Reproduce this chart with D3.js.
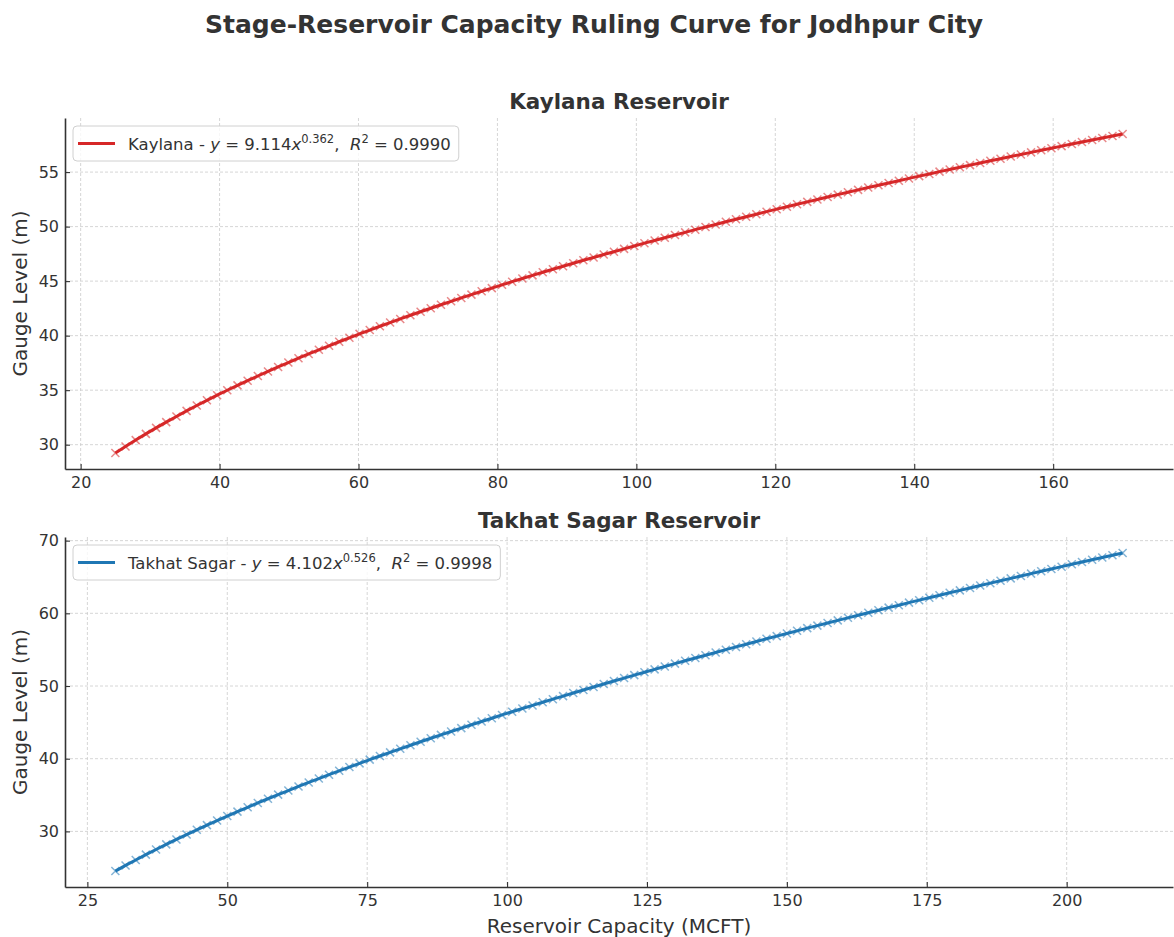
<!DOCTYPE html>
<html><head><meta charset="utf-8">
<script src="https://cdn.jsdelivr.net/npm/d3@7/dist/d3.min.js"></script>
<style>body{margin:0;background:#fff}text{font-family:"DejaVu Sans",sans-serif}</style>
</head><body>
<svg id="c" width="1174" height="937"></svg>
<script>
const kaylanaCapacity=[25.00,26.46,27.93,29.39,30.86,32.32,33.79,35.25,36.72,38.18,39.65,41.11,42.58,44.04,45.51,46.97,48.43,49.90,51.36,52.83,54.29,55.76,57.22,58.69,60.15,61.62,63.08,64.55,66.01,67.47,68.94,70.40,71.87,73.33,74.80,76.26,77.73,79.19,80.66,82.12,83.59,85.05,86.52,87.98,89.44,90.91,92.37,93.84,95.30,96.77,98.23,99.70,101.16,102.63,104.09,105.56,107.02,108.48,109.95,111.41,112.88,114.34,115.81,117.27,118.74,120.20,121.67,123.13,124.60,126.06,127.53,128.99,130.45,131.92,133.38,134.85,136.31,137.78,139.24,140.71,142.17,143.64,145.10,146.57,148.03,149.49,150.96,152.42,153.89,155.35,156.82,158.28,159.75,161.21,162.68,164.14,165.61,167.07,168.54,170.00];
const kaylanaLevel=[29.23,29.83,30.42,30.99,31.54,32.07,32.59,33.10,33.59,34.07,34.54,34.99,35.44,35.87,36.30,36.72,37.13,37.53,37.93,38.32,38.70,39.07,39.44,39.80,40.16,40.51,40.86,41.20,41.53,41.87,42.19,42.51,42.83,43.15,43.46,43.76,44.07,44.36,44.66,44.95,45.24,45.53,45.81,46.09,46.36,46.64,46.91,47.17,47.44,47.70,47.96,48.22,48.48,48.73,48.98,49.23,49.47,49.72,49.96,50.20,50.44,50.67,50.91,51.14,51.37,51.60,51.82,52.05,52.27,52.49,52.72,52.93,53.15,53.37,53.58,53.79,54.00,54.21,54.42,54.63,54.83,55.04,55.24,55.44,55.64,55.84,56.04,56.23,56.43,56.62,56.81,57.00,57.19,57.38,57.57,57.76,57.94,58.13,58.31,58.50];
const takhatCapacity=[30.00,31.82,33.64,35.45,37.27,39.09,40.91,42.73,44.55,46.36,48.18,50.00,51.82,53.64,55.45,57.27,59.09,60.91,62.73,64.55,66.36,68.18,70.00,71.82,73.64,75.45,77.27,79.09,80.91,82.73,84.55,86.36,88.18,90.00,91.82,93.64,95.45,97.27,99.09,100.91,102.73,104.55,106.36,108.18,110.00,111.82,113.64,115.45,117.27,119.09,120.91,122.73,124.55,126.36,128.18,130.00,131.82,133.64,135.45,137.27,139.09,140.91,142.73,144.55,146.36,148.18,150.00,151.82,153.64,155.45,157.27,159.09,160.91,162.73,164.55,166.36,168.18,170.00,171.82,173.64,175.45,177.27,179.09,180.91,182.73,184.55,186.36,188.18,190.00,191.82,193.64,195.45,197.27,199.09,200.91,202.73,204.55,206.36,208.18,210.00];
const takhatLevel=[24.54,25.32,26.07,26.80,27.51,28.21,28.89,29.56,30.22,30.86,31.49,32.11,32.72,33.32,33.91,34.49,35.06,35.62,36.18,36.73,37.27,37.80,38.33,38.85,39.36,39.87,40.37,40.87,41.36,41.85,42.33,42.81,43.28,43.74,44.21,44.67,45.12,45.57,46.02,46.46,46.90,47.33,47.76,48.19,48.61,49.04,49.45,49.87,50.28,50.69,51.09,51.50,51.90,52.29,52.69,53.08,53.47,53.86,54.24,54.62,55.00,55.38,55.75,56.13,56.50,56.86,57.23,57.59,57.96,58.31,58.67,59.03,59.38,59.73,60.08,60.43,60.78,61.12,61.47,61.81,62.15,62.49,62.82,63.16,63.49,63.82,64.15,64.48,64.81,65.13,65.46,65.78,66.10,66.42,66.74,67.06,67.37,67.69,68.00,68.31];
const kaylanaXTicks=[20,40,60,80,100,120,140,160];
const kaylanaYTicks=[30,35,40,45,50,55];
const takhatXTicks=[25,50,75,100,125,150,175,200];
const takhatYTicks=[30,40,50,60,70];
const kaylanaLegend={name:"Kaylana",a:"9.114",b:"0.362",r2:"0.9990"};
const takhatLegend={name:"Takhat Sagar",a:"4.102",b:"0.526",r2:"0.9998"};

const svg=d3.select("#c");
const ink="#333333";

svg.append("text").attr("x",594).attr("y",33).attr("text-anchor","middle")
  .attr("font-size",25).attr("font-weight","bold").attr("fill",ink)
  .text("Stage-Reservoir Capacity Ruling Curve for Jodhpur City");

function panel(o){
  const g=svg.append("g");
  const x=d3.scaleLinear().domain(o.xd).range([o.left,o.right]);
  const y=d3.scaleLinear().domain(o.yd).range([o.bottom,o.top]);
  g.append("g").selectAll("line").data(o.xt).join("line")
    .attr("x1",d=>x(d)).attr("x2",d=>x(d)).attr("y1",o.top).attr("y2",o.bottom)
    .attr("stroke","#cccccc").attr("stroke-width",0.8).attr("stroke-dasharray","3,2");
  g.append("g").selectAll("line").data(o.yt).join("line")
    .attr("y1",d=>y(d)).attr("y2",d=>y(d)).attr("x1",o.left).attr("x2",o.right)
    .attr("stroke","#cccccc").attr("stroke-width",0.8).attr("stroke-dasharray","3,2");
  const pts=o.xs.map((v,i)=>[v,o.ys[i]]);
  const s=4;
  g.append("g").selectAll("path").data(pts).join("path")
    .attr("d",d=>{const cx=x(d[0]),cy=y(d[1]);return `M${cx-s},${cy-s}L${cx+s},${cy+s}M${cx-s},${cy+s}L${cx+s},${cy-s}`;})
    .attr("stroke",o.color).attr("stroke-opacity",0.55).attr("stroke-width",1.5).attr("fill","none");
  g.append("path").datum(pts)
    .attr("d",d3.line().x(d=>x(d[0])).y(d=>y(d[1])))
    .attr("fill","none").attr("stroke",o.color).attr("stroke-width",3);
  const ax=g.append("g").attr("transform",`translate(0,${o.bottom})`)
    .call(d3.axisBottom(x).tickValues(o.xt).tickSizeInner(-5).tickSizeOuter(0).tickPadding(8).tickFormat(d3.format("d")));
  const ay=g.append("g").attr("transform",`translate(${o.left},0)`)
    .call(d3.axisLeft(y).tickValues(o.yt).tickSizeInner(-5).tickSizeOuter(0).tickPadding(6).tickFormat(d3.format("d")));
  [ax,ay].forEach(a=>{
    a.select(".domain").attr("stroke",ink).attr("stroke-width",1.6);
    a.selectAll(".tick line").attr("stroke",ink).attr("stroke-width",1.1);
    a.selectAll(".tick text").attr("fill",ink).attr("font-size",16).attr("font-family","DejaVu Sans");
  });
  g.append("text").attr("x",(o.left+o.right)/2).attr("y",o.top-9).attr("text-anchor","middle")
    .attr("font-size",21.5).attr("font-weight","bold").attr("fill",ink).text(o.title);
  g.append("text").attr("transform",`translate(27,${(o.top+o.bottom)/2}) rotate(-90)`)
    .attr("text-anchor","middle").attr("font-size",20).attr("fill",ink).text("Gauge Level (m)");
  const L=o.legend;
  const lg=g.append("g");
  const box=lg.append("rect").attr("x",o.left+8).attr("y",o.top+8).attr("height",35).attr("rx",4)
    .attr("fill","#fff").attr("fill-opacity",0.8).attr("stroke","#d0d0d0").attr("stroke-width",1);
  const ly=o.top+25.5;
  lg.append("line").attr("x1",o.left+13).attr("x2",o.left+50).attr("y1",ly).attr("y2",ly)
    .attr("stroke",o.color).attr("stroke-width",3);
  const t=lg.append("text").attr("x",o.left+63).attr("y",ly+6).attr("font-size",16.5).attr("fill",ink)
    .attr("xml:space","preserve").style("white-space","pre");
  t.append("tspan").text(L.name+" - ");
  t.append("tspan").attr("font-style","italic").text("y");
  t.append("tspan").text(" = "+L.a);
  t.append("tspan").attr("font-style","italic").text("x");
  t.append("tspan").attr("font-size",11.5).attr("dy",-7).text(L.b);
  t.append("tspan").attr("dy",7).text(",  ");
  t.append("tspan").attr("font-style","italic").text("R");
  t.append("tspan").attr("font-size",11.5).attr("dy",-7).text("2");
  t.append("tspan").attr("dy",7).text(" = "+L.r2);
  const w=t.node().getComputedTextLength();
  box.attr("width",63+w+8-8);
  return {x,y};
}

panel({xd:[17.75,177.25],yd:[27.77,59.96],left:65,right:1173,top:118,bottom:469,
  xs:kaylanaCapacity,ys:kaylanaLevel,xt:kaylanaXTicks,yt:kaylanaYTicks,color:"#d62728",
  title:"Kaylana Reservoir",legend:kaylanaLegend});
panel({xd:[21,219],yd:[22.35,70.5],left:65,right:1173,top:537,bottom:887,
  xs:takhatCapacity,ys:takhatLevel,xt:takhatXTicks,yt:takhatYTicks,color:"#1f77b4",
  title:"Takhat Sagar Reservoir",legend:takhatLegend});

svg.append("text").attr("x",619).attr("y",933).attr("text-anchor","middle")
  .attr("font-size",20).attr("fill",ink).text("Reservoir Capacity (MCFT)");
</script>
</body></html>
